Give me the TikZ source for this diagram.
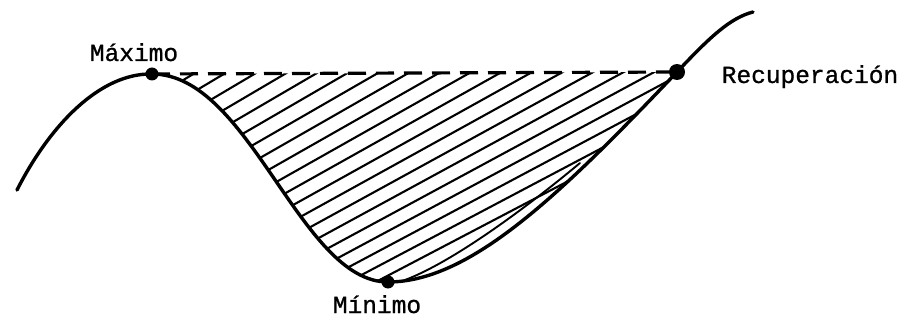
\documentclass[tikz,border=0pt]{standalone}
\usepackage{fontspec}
\newfontfamily\typew{Liberation Mono}[FakeBold=0.9]
\begin{document}
\begin{tikzpicture}[x=1pt,y=-1pt,
  curve/.style={line width=3.4pt, line cap=round, line join=round},
  thincurve/.style={line width=1.9pt, line cap=round},
  hatchline/.style={line width=2.1pt},
  dashline/.style={line width=3.2pt, dash pattern=on 18pt off 10pt},
  dot/.style={circle, fill=black, inner sep=0pt, minimum size=13pt},
  lbl/.style={font=\typew\fontsize{24.5}{29}\selectfont, anchor=base, inner sep=0pt}]
\useasboundingbox (0,0) rectangle (914,321);
\coordinate (start) at (17,190);
\coordinate (stop) at (753,12);
\coordinate (max) at (152,74);
\coordinate (min) at (388,282);
\coordinate (rec) at (677,72);
\coordinate (lensA) at (405,280);
\coordinate (lensB) at (580,163);
% hatching
\begin{scope}
\clip (max) .. controls (250,74) and (300,282) .. (min)
      .. controls (470,282) and (560,195) .. (rec) -- cycle;
\foreach \k in {-1,...,19} {
  \pgfmathsetmacro\xt{195+30.5*\k}
  \pgfmathsetmacro\sl{0.60-0.004*\k}
  \draw[hatchline] ({\xt-500},{73+500*\sl}) -- ({\xt+100},{73-100*\sl});
}
\end{scope}
% dashed line
\draw[dashline] (max) -- (rec);
% main curve
\draw[curve] (start) .. controls (50,125) and (100,73) .. (max)
  .. controls (250,74) and (300,282) .. (min)
  .. controls (470,282) and (560,195) .. (rec)
  .. controls (710,37) and (730,18) .. (stop);
% lens line
\draw[thincurve] (lensA) .. controls (450,263) and (520,213) .. (lensB);
% dots
\node[dot] (dmax) at (max) {};
\node[dot] (dmin) at (min) {};
\node[dot, minimum size=16pt] (drec) at (rec) {};
% labels
\node[lbl] (lmax) at (134,61) {Máximo};
\node[lbl] (lmin) at (377,313) {Mínimo};
\node[lbl] (lrec) at (810,83) {Recuperación};
\end{tikzpicture}
\end{document}
